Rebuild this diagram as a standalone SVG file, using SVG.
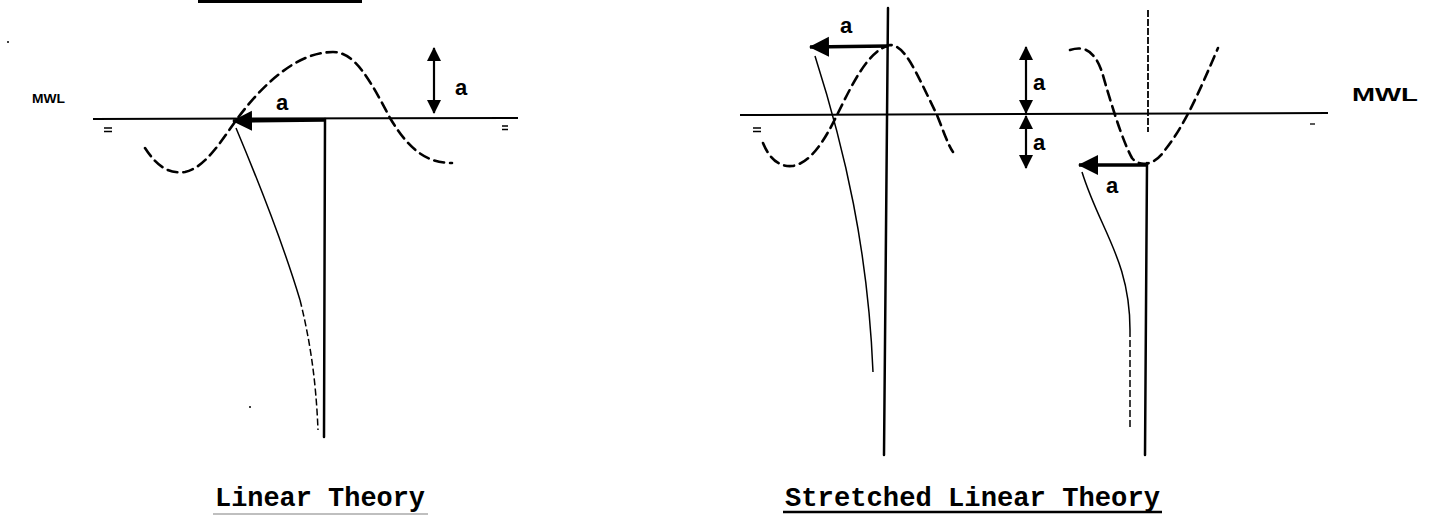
<svg xmlns="http://www.w3.org/2000/svg" width="1429" height="516" viewBox="0 0 1429 516">
<style>
.bg{fill:#ffffff}
.axis{stroke:#000;stroke-width:2.5;fill:none;stroke-linecap:round}
.mwl{stroke:#000;stroke-width:2;fill:none}
.wave{stroke:#000;stroke-width:2.6;fill:none;stroke-dasharray:10 6;stroke-linecap:round}
.stream{stroke:#000;stroke-width:1.5;fill:none}
.streamd{stroke:#000;stroke-width:1.5;fill:none;stroke-dasharray:7 3}
.arr{stroke:#000;stroke-width:3.5;fill:none}
.dim{stroke:#000;stroke-width:2.2;fill:none}
.tick{stroke:#000;stroke-width:1.3}
.hand{font-family:"Liberation Sans",Arial,sans-serif;font-weight:bold;fill:#000}
.title{font-family:"Liberation Mono","Courier New",monospace;font-weight:bold;font-size:27px;fill:#000}
</style>
<defs>
<marker id="ah" markerUnits="userSpaceOnUse" markerWidth="14" markerHeight="14" refX="13" refY="7" orient="auto-start-reverse" viewBox="0 0 14 14">
<path d="M0,0 L14,7 L0,14 z" fill="#000"/>
</marker>
<marker id="ahBig" markerUnits="userSpaceOnUse" markerWidth="20" markerHeight="22" refX="19" refY="11" orient="auto" viewBox="0 0 20 22">
<path d="M0,1 L20,11 L0,21 z" fill="#000"/>
</marker>
</defs>
<rect class="bg" x="0" y="0" width="1429" height="516"/>
<rect x="198" y="0" width="164" height="3" fill="#000"/>
<circle cx="8" cy="42" r="1" fill="#000"/>
<circle cx="250" cy="407" r="1" fill="#000"/>

<g id="linear-theory">
<text class="hand" x="32" y="103" font-size="13" textLength="33" lengthAdjust="spacingAndGlyphs">MWL</text>
<path class="mwl" d="M93,119 L518,118"/>
<path class="tick" d="M104,128 L112,128 M104,131.5 L112,131.5"/>
<path class="tick" d="M502,126 L508,126 M502,129.5 L508,129.5"/>
<path class="axis" d="M325,119 L324,437"/>
<path class="wave" d="M145,148 C158,168 170,174 185,172 C205,168 222,140 237,119 C260,88 295,52 333,52 C355,52 370,80 390,118 C408,148 425,163 452,163"/>
<path class="stream" d="M236,128 C262,190 285,250 300,300"/>
<path class="streamd" d="M300,300 C310,340 316,380 318,430"/>
<path class="arr" d="M325,120 L233,121" marker-end="url(#ahBig)"/>
<text class="hand" x="276" y="110" font-size="22">a</text>
<path class="dim" d="M434,48 L434,113" marker-start="url(#ah)" marker-end="url(#ah)"/>
<text class="hand" x="455" y="95" font-size="22">a</text>
<text class="title" x="215" y="506" textLength="210" lengthAdjust="spacingAndGlyphs">Linear Theory</text>
<path d="M213,514 L428,514" stroke="#aaa" stroke-width="1.5"/>
</g>

<g id="stretched-linear-theory">
<text class="hand" x="1352" y="101" font-size="18" textLength="66" lengthAdjust="spacingAndGlyphs">MWL</text>
<path class="mwl" d="M740,115 L1328,113"/>
<path class="tick" d="M753,128 L761,128 M753,131.5 L761,131.5"/>
<path class="tick" d="M1310,124 L1315,124"/>
<path class="axis" d="M888,8 L884,455"/>
<path d="M1148,10 L1148,132" stroke="#000" stroke-width="1.8" stroke-dasharray="7 2" fill="none"/>
<path class="axis" d="M1147,163 L1145,455" stroke-width="3"/>
<path class="wave" d="M763,143 C770,160 780,167 792,166 C810,164 825,140 837,115 C852,85 868,50 890,45 C905,45 915,70 937,115 C943,130 948,145 953,152"/>
<path class="wave" d="M1070,50 C1085,45 1095,52 1102,72 C1110,100 1122,140 1132,158 C1140,168 1155,165 1165,150 C1185,125 1200,90 1218,48"/>
<path class="stream" d="M815,56 C845,150 868,250 873,372"/>
<path class="stream" d="M1082,172 C1100,230 1130,260 1130,330"/>
<path class="streamd" d="M1130,330 L1130,430"/>
<path class="arr" d="M888,46 L810,47" marker-end="url(#ahBig)"/>
<text class="hand" x="840" y="33" font-size="22">a</text>
<path class="dim" d="M1026,47 L1026,113" marker-start="url(#ah)" marker-end="url(#ah)"/>
<path class="dim" d="M1026,116 L1026,168" marker-start="url(#ah)" marker-end="url(#ah)"/>
<text class="hand" x="1033" y="90" font-size="22">a</text>
<text class="hand" x="1033" y="150" font-size="22">a</text>
<path class="arr" d="M1147,165 L1079,165" marker-end="url(#ahBig)"/>
<text class="hand" x="1106" y="193" font-size="22">a</text>
<text class="title" x="785" y="506" textLength="375" lengthAdjust="spacingAndGlyphs">Stretched Linear Theory</text>
<path d="M783,512 L1162,512" stroke="#000" stroke-width="2.5"/>
</g>
</svg>
